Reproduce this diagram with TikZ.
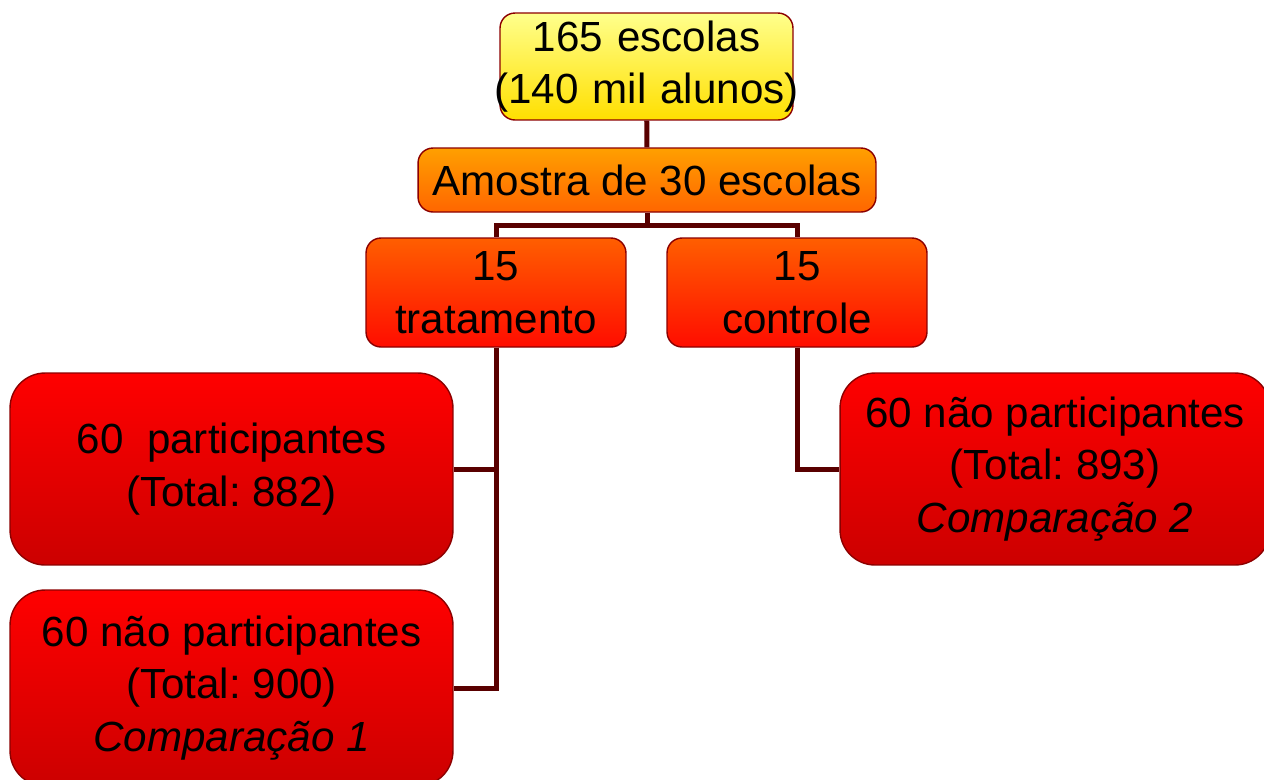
\documentclass[tikz,border=0pt]{standalone}
\usepackage{fontspec}
\setmainfont{Liberation Sans}
\begin{document}
\frenchspacing
\begin{tikzpicture}[x=0.02cm,y=-0.02cm,line join=miter,
	box/.style={draw=red!55!black,line width=0.8pt,rounded corners=0.3cm,align=center,inner sep=0pt,
		font=\fontsize{24}{30}\selectfont},
	bigbox/.style={box,rounded corners=0.7cm,top color=red,bottom color=red!80!black,
		minimum width=8.86cm,minimum height=3.84cm},
	midbox/.style={box,top color=orange!60!red!90!yellow,bottom color=red!90!orange,
		minimum width=5.2cm,minimum height=2.18cm},
	link/.style={draw=red!35!black,line width=0.1cm}]
	\useasboundingbox (0,0) rectangle (1264,779);
	\node[box,top color=yellow!45!white,bottom color=yellow!75!orange,text width=5.86cm,
		minimum height=2.14cm] (root) at (646.5,66.5) {\rule[-0.3cm]{0pt}{0pt}165 escolas\\\makebox[5.86cm]{(140 mil alunos)}};
	\node[box,top color=orange!75!yellow,bottom color=orange!80!red,minimum width=9.16cm,
		minimum height=1.28cm] (amostra) at (647,180) {Amostra de 30 escolas};
	\node[midbox] (trat) at (496,292.5) {15\\tratamento};
	\node[midbox] (ctrl) at (797,292.5) {15\\controle};
	\node[bigbox] (part) at (231.5,469) {60~ participantes\\(Total: 882)};
	\node[bigbox,minimum height=3.92cm] (naoA) at (231.5,688) {60 não participantes\\(Total: 900)\\\textit{Comparação 1}};
	\node[bigbox,minimum width=8.6cm] (naoB) at (1055,469) {60 não participantes\\(Total: 893)\\\textit{Comparação 2}};
	\coordinate (split) at (647,225);
	\draw[link] (root) -- (amostra);
	\draw[link] (amostra.south) -- (split) -| (trat.north);
	\draw[link] (split) -| (ctrl.north);
	\draw[link] (trat.south) |- (part.east);
	\draw[link] (trat.south) |- (naoA.east);
	\draw[link] (ctrl.south) |- (naoB.west);
\end{tikzpicture}
\end{document}
